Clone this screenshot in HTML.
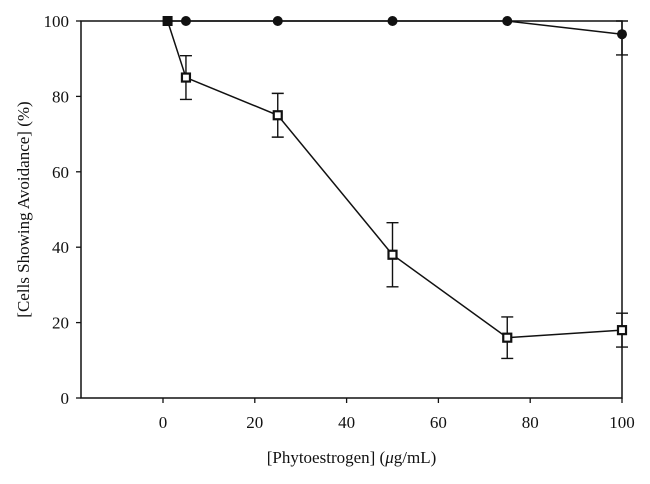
<!DOCTYPE html>
<html><head><meta charset="utf-8"><style>
body{margin:0;background:#fff;}
svg text{font-family:"Liberation Serif",serif;fill:#111;}
</style></head><body>
<svg id="chart" width="650" height="479" viewBox="0 0 650 479"></svg>
<script>
const xTicks=[0,20,40,60,80,100];
const yTicks=[0,20,40,60,80,100];
const xFilled=[1,5,25,50,75,100];
const yFilled=[100,100,100,100,100,96.5];
const eFilled=[0,0,0,0,0,5.5];
const xOpen=[1,5,25,50,75,100];
const yOpen=[100,85,75,38,16,18];
const eOpen=[0,5.8,5.8,8.5,5.5,4.5];

const NS="http://www.w3.org/2000/svg";
const svg=document.getElementById('chart');
const X0=163,XS=(622-163)/100,Y0=398,YS=(398-21)/100;
const sx=v=>X0+v*XS, sy=v=>Y0-v*YS;
function mk(t,a,p){const e=document.createElementNS(NS,t);for(const k in a)e.setAttribute(k,a[k]);(p||svg).appendChild(e);return e;}

const frame=mk('path',{d:`M81,${sy(100)} H622 V${Y0} H81 Z`,fill:'none',stroke:'#111','stroke-width':1.5});



yTicks.forEach(v=>{
  const l=mk('line',{x1:76,x2:81,y1:sy(v),y2:sy(v),stroke:'#111','stroke-width':1.3});
  
  
  const t=mk('text',{x:69,y:sy(v)+6,'text-anchor':'end','font-size':17});
  t.textContent=v;
  
  
});
xTicks.forEach(v=>{
  const l=mk('line',{x1:sx(v),x2:sx(v),y1:Y0,y2:Y0+5,stroke:'#111','stroke-width':1.3});
  
  
  const t=mk('text',{x:sx(v),y:428,'text-anchor':'middle','font-size':17});
  t.textContent=v;
  
  
});
const xt=mk('text',{x:(81+622)/2,y:463,'text-anchor':'middle','font-size':17});
xt.innerHTML='[Phytoestrogen] (<tspan font-style="italic">μ</tspan>g/mL)';


const yt=mk('text',{x:0,y:0,'text-anchor':'middle','font-size':17,transform:`translate(29,${(21+398)/2}) rotate(-90)`});
yt.textContent='[Cells Showing Avoidance] (%)';



function series(xs,ys,es,name,marker){
  const g=mk('g',{});
  
  
  mk('polyline',{points:xs.map((x,i)=>sx(x)+','+sy(ys[i])).join(' '),fill:'none',stroke:'#111','stroke-width':1.5},g);
  xs.forEach((x,i)=>{
    if(es[i]>0){
      const cx=sx(x),t=sy(Math.min(ys[i]+es[i],100)),b=sy(ys[i]-es[i]);
      const eb=mk('path',{d:`M${cx},${t} V${b} M${cx-6},${t} H${cx+6} M${cx-6},${b} H${cx+6}`,stroke:'#111','stroke-width':1.4,fill:'none'},g);
      
      
    }
  });
  xs.forEach((x,i)=>{
    const cx=sx(x),cy=sy(ys[i]);let m;
    if(marker==='circle') m=mk('circle',{cx,cy,r:5,fill:'#111'},g);
    else if(i===0) m=mk('rect',{x:cx-5,y:cy-5,width:10,height:10,fill:'#111'},g);
    else m=mk('rect',{x:cx-4,y:cy-4,width:8,height:8,fill:'#fff',stroke:'#111','stroke-width':2.2},g);
    
    
  });
}
series(xOpen,yOpen,eOpen,'series-open-squares','square');
series(xFilled,yFilled,eFilled,'series-filled-circles','circle');
</script>
</body></html>
